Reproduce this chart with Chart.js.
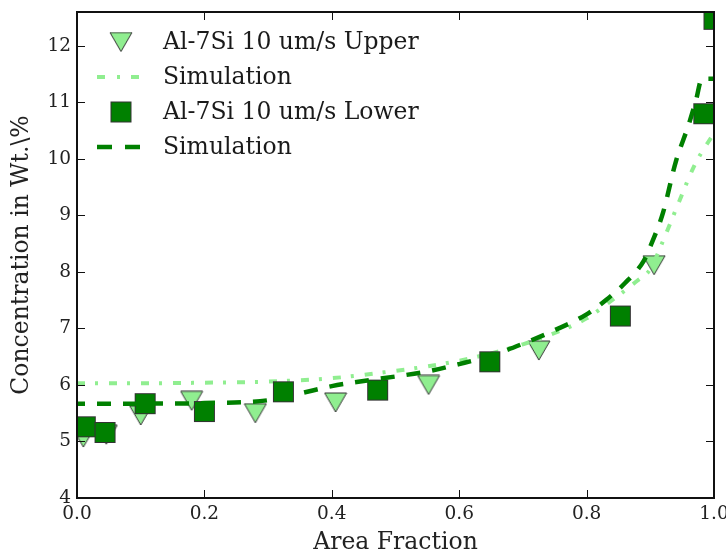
<!DOCTYPE html>
<html><head><meta charset="utf-8">
<script src="https://cdn.jsdelivr.net/npm/chart.js@4"></script>
<style>html,body{margin:0;padding:0;background:#fff}#wrap{width:726px;height:557px}</style>
</head><body><div id="wrap"><canvas id="c" width="726" height="557"></canvas></div>
<script>
// ---- data ----
const upperX = [0.010, 0.046, 0.100, 0.180, 0.280, 0.406, 0.552, 0.725, 0.906];
const upperY = [5.07, 5.12, 5.46, 5.72, 5.50, 5.69, 6.00, 6.61, 8.12];
const lowerX = [0.013, 0.044, 0.107, 0.200, 0.324, 0.472, 0.648, 0.853, 0.984, 1.000];
const lowerY = [5.26, 5.16, 5.67, 5.53, 5.88, 5.91, 6.41, 7.22, 10.80, 12.47];
const upperSimX = [0, 0.1, 0.2, 0.3, 0.4, 0.5, 0.55, 0.6, 0.65, 0.7, 0.75, 0.8, 0.84, 0.88, 0.9, 0.92, 0.94, 0.97, 1.0];
const upperSimY = [6.03, 6.03, 6.04, 6.06, 6.12, 6.25, 6.33, 6.43, 6.56, 6.72, 6.92, 7.18, 7.50, 7.85, 8.05, 8.55, 9.10, 9.90, 10.46];
const lowerSimX = [0, 0.1, 0.2, 0.3, 0.35, 0.4, 0.45, 0.5, 0.55, 0.6, 0.65, 0.7, 0.75, 0.8, 0.83, 0.86, 0.89, 0.9, 0.92, 0.94, 0.96, 0.972, 0.981, 1.0];
const lowerSimY = [5.67, 5.67, 5.68, 5.73, 5.85, 5.98, 6.07, 6.15, 6.24, 6.37, 6.52, 6.73, 6.97, 7.25, 7.50, 7.80, 8.20, 8.45, 9.05, 9.95, 10.60, 11.05, 11.42, 11.42];
const xTicks = [0, 0.2, 0.4, 0.6, 0.8, 1.0];
const yTicks = [4, 5, 6, 7, 8, 9, 10, 11, 12];
const legendLabels = ['Al-7Si 10 um/s Upper', 'Simulation', 'Al-7Si 10 um/s Lower', 'Simulation'];

const LIGHT = '#90EE90', DARK = '#008000', EDGE = '#333333';
const FONT = "'DejaVu Serif', serif";
const pts = (xs, ys) => xs.map((x, i) => ({x: x, y: ys[i]}));

function makeTri(fill, w, h) {
  const c = document.createElement('canvas');
  c.width = w + 2; c.height = h + 2;
  const g = c.getContext('2d');
  g.beginPath(); g.moveTo(1, 1); g.lineTo(w + 1, 1); g.lineTo(w / 2 + 1, h + 1); g.closePath();
  g.fillStyle = fill; g.fill(); g.strokeStyle = EDGE; g.lineWidth = 1; g.stroke();
  return c;
}
function makeSq(fill, s) {
  const c = document.createElement('canvas');
  c.width = s + 2; c.height = s + 2;
  const g = c.getContext('2d');
  g.fillStyle = fill; g.fillRect(1, 1, s, s);
  g.strokeStyle = EDGE; g.lineWidth = 1; g.strokeRect(1.5, 1.5, s - 1, s - 1);
  return c;
}
const triImg = makeTri(LIGHT, 22, 19);
const sqImg = makeSq(DARK, 21);

const framePlugin = {
  id: 'frame',
  afterDatasetsDraw(chart) {
    const ctx = chart.ctx, a = chart.chartArea;
    const xs = chart.scales.x, ys = chart.scales.y;
    ctx.save();
    ctx.strokeStyle = '#111'; ctx.lineWidth = 1;
    const L = 8;
    ctx.beginPath();
    xTicks.forEach(v => {
      const px = Math.round(xs.getPixelForValue(v)) + 0.5;
      ctx.moveTo(px, a.bottom); ctx.lineTo(px, a.bottom - L);
      ctx.moveTo(px, a.top); ctx.lineTo(px, a.top + L);
    });
    yTicks.forEach(v => {
      const py = Math.round(ys.getPixelForValue(v)) + 0.5;
      ctx.moveTo(a.left, py); ctx.lineTo(a.left + L, py);
      ctx.moveTo(a.right, py); ctx.lineTo(a.right - L, py);
    });
    ctx.stroke();
    ctx.lineWidth = 2; ctx.strokeStyle = '#111';
    ctx.strokeRect(a.left, a.top, a.right - a.left, a.bottom - a.top);
    ctx.restore();

    // legend
    ctx.save();
    ctx.font = '23.5px ' + FONT; ctx.fillStyle = '#1a1a1a'; ctx.textBaseline = 'middle';
    const rows = [42, 77, 112, 147];
    const tx = 163;
    ctx.drawImage(triImg, 121 - triImg.width / 2, rows[0] - triImg.height / 2);
    ctx.drawImage(sqImg, 121 - sqImg.width / 2, rows[2] - sqImg.height / 2);
    ctx.lineCap = 'butt';
    ctx.strokeStyle = LIGHT; ctx.lineWidth = 4; ctx.setLineDash([8, 12, 3, 11]);
    ctx.beginPath(); ctx.moveTo(97, rows[1]); ctx.lineTo(140, rows[1]); ctx.stroke();
    ctx.strokeStyle = DARK; ctx.lineWidth = 4.5; ctx.setLineDash([15, 13]);
    ctx.beginPath(); ctx.moveTo(97, rows[3]); ctx.lineTo(140, rows[3]); ctx.stroke();
    ctx.setLineDash([]);
    legendLabels.forEach((t, i) => ctx.fillText(t, tx, rows[i] + 1));
    ctx.restore();
  }
};

new Chart(document.getElementById('c'), {
  type: 'scatter',
  data: {
    datasets: [
      { label: 'Simulation', data: pts(lowerSimX, lowerSimY), showLine: true, pointRadius: 0,
        borderColor: DARK, borderWidth: 4.5, borderDash: [14, 12], borderDashOffset: 6, borderCapStyle: 'butt',
        cubicInterpolationMode: 'monotone', clip: 0 },
      { label: 'Al-7Si 10 um/s Lower', data: pts(lowerX, lowerY), pointStyle: sqImg,
        pointRadius: 11, backgroundColor: DARK, borderColor: EDGE, clip: 0 },
      { label: 'Simulation', data: pts(upperSimX, upperSimY), showLine: true, pointRadius: 0,
        borderColor: LIGHT, borderWidth: 4, borderDash: [8, 10, 3, 11], borderCapStyle: 'butt',
        cubicInterpolationMode: 'monotone', clip: 0 },
      { label: 'Al-7Si 10 um/s Upper', data: pts(upperX, upperY), pointStyle: triImg,
        pointRadius: 11, backgroundColor: LIGHT, borderColor: EDGE, clip: 0 }
    ]
  },
  options: {
    responsive: false, animation: false,
    layout: { padding: { top: 8, right: 12, left: 0, bottom: 0 } },
    plugins: { legend: { display: false }, tooltip: { enabled: false } },
    scales: {
      x: {
        type: 'linear', min: 0, max: 1,
        grid: { display: false, drawTicks: false, tickLength: 0 }, border: { display: false },
        ticks: { stepSize: 0.2, padding: 5, color: '#222', font: { family: FONT, size: 18.5 },
                 callback: v => Number(v).toFixed(1), maxRotation: 0 },
        title: { display: true, text: 'Area Fraction', color: '#222', font: { family: FONT, size: 23.5 },
                 padding: { top: 0, bottom: 0 } },
        afterFit: s => { s.height = 59; s.paddingLeft = 0; s.paddingRight = 0; }
      },
      y: {
        type: 'linear', min: 4, max: 12.6,
        grid: { display: false, drawTicks: false, tickLength: 0 }, border: { display: false },
        ticks: { stepSize: 1, includeBounds: false, padding: 6, color: '#222', font: { family: FONT, size: 18.5 } },
        title: { display: true, text: 'Concentration in Wt.\\%', color: '#222', font: { family: FONT, size: 23.5 },
                 padding: { top: 8, bottom: 4 } },
        afterFit: s => { s.width = 77; s.paddingTop = 0; s.paddingBottom = 0; }
      }
    }
  },
  plugins: [framePlugin]
});
</script>
</body></html>
